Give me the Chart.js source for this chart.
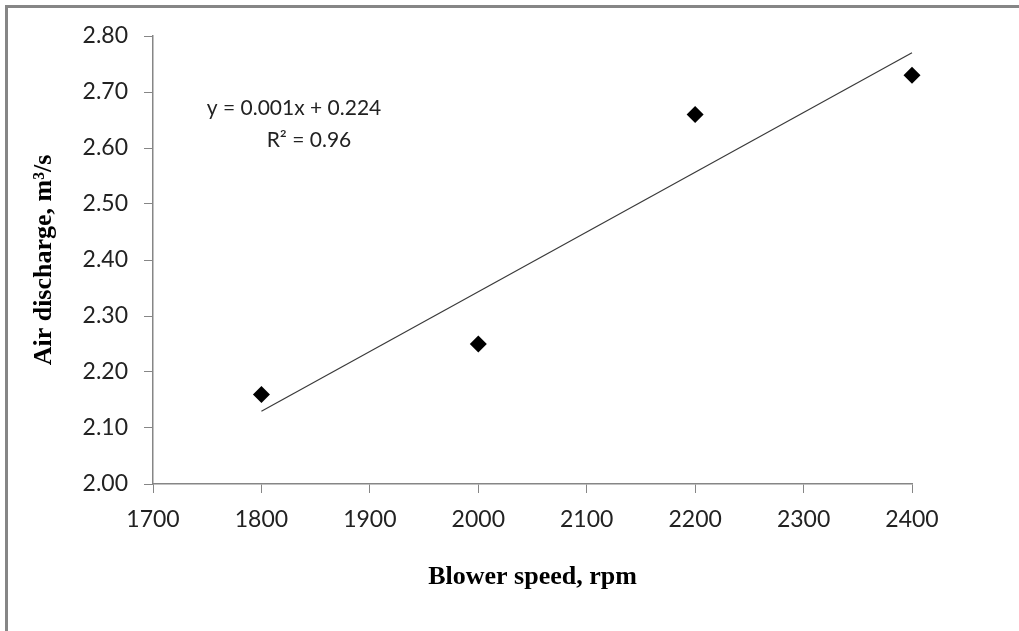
<!DOCTYPE html>
<html>
<head>
<meta charset="utf-8">
<script src="https://cdn.jsdelivr.net/npm/chart.js@4/dist/chart.umd.min.js"></script>
<style>
  html, body { margin: 0; padding: 0; background: #fff; overflow: hidden; }
  #wrap { position: relative; width: 1019px; height: 631px; }
  #frame { position: absolute; left: 5px; top: 5px; width: 1100px; height: 700px;
           border-top: 3px solid #868686; border-left: 3px solid #868686; pointer-events: none; }
  canvas { position: absolute; left: 0; top: 0; }
</style>
</head>
<body>
<div id="wrap">
  <canvas id="chart" width="1019" height="631"></canvas>
  <div id="frame"></div>
</div>
<script>
// measured points
const speeds = [1800, 2000, 2200, 2400];
const discharge = [2.16, 2.25, 2.66, 2.73];

// linear trendline end points
const trendX = [1800, 2400];
const trendY = [2.13, 2.77];

const eqText = 'y = 0.001x + 0.224';
const r2Text = 'R² = 0.96';

const tickFont = { family: 'Lato', size: 23 };
const titleFont = { family: 'Liberation Serif', size: 26, weight: 'bold' };

// equation label drawn on the plot
const eqLabel = {
    id: 'eqLabel',
    afterDatasetsDraw(chart) {
        const { ctx, chartArea } = chart;
        ctx.save();
        ctx.fillStyle = '#222';
        ctx.font = '21px Lato';
        ctx.textAlign = 'center';
        ctx.textBaseline = 'middle';
        ctx.fillText(eqText, chartArea.left + 141, chartArea.top + 72);
        ctx.fillText(r2Text, chartArea.left + 156, chartArea.top + 104);
        ctx.restore();
    }
};

new Chart(document.getElementById('chart'), {
    type: 'scatter',
    data: {
        datasets: [{
            label: 'Air discharge',
            data: speeds.map((x, i) => ({ x: x, y: discharge[i] })),
            pointStyle: 'rectRot',
            pointRadius: 8.5,
            backgroundColor: '#000',
            borderColor: '#000',
            borderWidth: 0,
            clip: false
        }, {
            label: 'Linear trend',
            type: 'line',
            data: trendX.map((x, i) => ({ x: x, y: trendY[i] })),
            borderColor: '#3a3a3a',
            borderWidth: 1.2,
            pointRadius: 0,
            fill: false,
            clip: false
        }]
    },
    options: {
        responsive: false,
        animation: false,
        layout: { padding: { top: 36, right: 107, left: 0, bottom: 0 } },
        plugins: {
            legend: { display: false },
            tooltip: { enabled: false }
        },
        scales: {
            x: {
                type: 'linear',
                min: 1700,
                max: 2400,
                ticks: { stepSize: 100, color: '#222', font: tickFont, padding: 13,
                         callback: v => String(v) },
                grid: { drawOnChartArea: false, color: '#868686', tickLength: 9 },
                border: { color: '#868686', width: 1.5 },
                title: { display: true, text: 'Blower speed, rpm', color: '#000', font: titleFont,
                         padding: { top: 0, bottom: 38 } },
                afterFit(scale) { scale.height = 147; }
            },
            y: {
                min: 2.0,
                max: 2.8,
                ticks: { stepSize: 0.1, color: '#222', font: tickFont, padding: 16,
                         callback: v => v.toFixed(2) },
                grid: { drawOnChartArea: false, color: '#868686', tickLength: 9 },
                border: { color: '#868686', width: 1.5 },
                title: { display: true, text: 'Air discharge, m³/s', color: '#000', font: titleFont,
                         padding: { top: 29, bottom: 0 } },
                afterFit(scale) { scale.width = 153; }
            }
        }
    },
    plugins: [eqLabel]
});
</script>
</body>
</html>
